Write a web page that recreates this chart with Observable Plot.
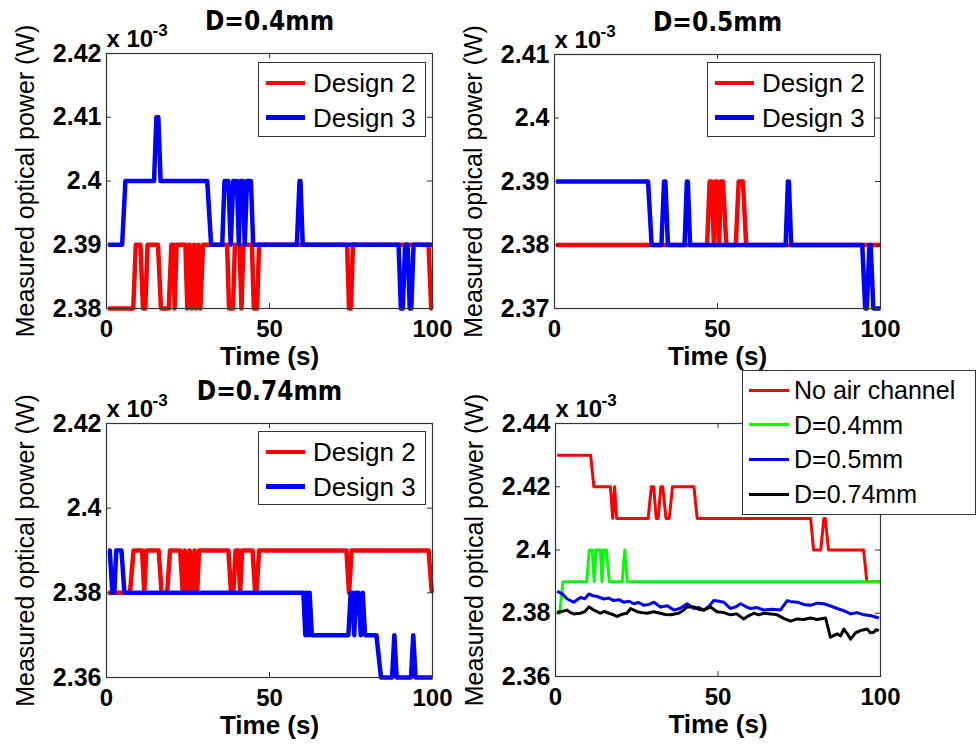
<!DOCTYPE html>
<html><head><meta charset="utf-8">
<script src="https://cdn.jsdelivr.net/npm/d3@7"></script>
<script src="https://cdn.jsdelivr.net/npm/@observablehq/plot@0.6"></script>
<style>
body{margin:0;background:#fff;}
#root{position:relative;width:976px;height:746px;overflow:hidden;background:#fff;font-family:"Liberation Sans",Arial,sans-serif;}
#root svg{position:absolute;left:0;top:0;}
.legend{position:absolute;background:#fff;border:1px solid #333;box-sizing:border-box;color:#000;}
.legend .sw{position:absolute;}
.legend .lbl{position:absolute;white-space:nowrap;line-height:30px;top:0;}
</style></head><body><div id="root"></div>
<script>
// ---- data (power in units of 1e-3 W, time in s) ----
const xTicks = [0, 50, 100];
const xTickLabels = ["0", "50", "100"];

const p1Ticks = [2.38, 2.39, 2.40, 2.41, 2.42];
const p1Labels = ["2.38", "2.39", "2.4", "2.41", "2.42"];
const p2Ticks = [2.37, 2.38, 2.39, 2.40, 2.41];
const p2Labels = ["2.37", "2.38", "2.39", "2.4", "2.41"];
const p3Ticks = [2.36, 2.38, 2.40, 2.42];
const p3Labels = ["2.36", "2.38", "2.4", "2.42"];
const p4Ticks = [2.36, 2.38, 2.40, 2.42, 2.44];
const p4Labels = ["2.36", "2.38", "2.4", "2.42", "2.44"];

const titles = ["D=0.4mm", "D=0.5mm", "D=0.74mm", ""];
const designNames = ["Design 2", "Design 3"];
const summaryNames = ["No air channel", "D=0.4mm", "D=0.5mm", "D=0.74mm"];

// Panel 1: D=0.4mm
const p1Design2 = [[0.5,2.38],[8.2,2.38],[9.0,2.39],[10.4,2.39],[11.2,2.38],[11.9,2.38],[12.6,2.39],[15.8,2.39],[16.7,2.38],[19.1,2.38],[19.9,2.39],[20.4,2.39],[20.9,2.38],[21.5,2.39],[24.2,2.39],[24.8,2.38],[25.5,2.39],[26.2,2.38],[26.9,2.39],[27.5,2.38],[28.2,2.39],[28.8,2.38],[29.6,2.39],[37.0,2.39],[37.6,2.38],[38.8,2.38],[39.4,2.39],[40.8,2.39],[41.4,2.38],[42.0,2.39],[44.6,2.39],[45.2,2.38],[46.2,2.38],[46.8,2.39],[73.8,2.39],[74.4,2.38],[75.0,2.38],[75.6,2.39],[98.8,2.39],[99.6,2.38],[100,2.38]];
const p1Design3 = [[0.5,2.39],[4.8,2.39],[5.8,2.40],[14.6,2.40],[15.3,2.41],[15.9,2.41],[16.6,2.40],[30.9,2.40],[32.1,2.39],[35.5,2.39],[36.2,2.40],[37.4,2.40],[38.1,2.39],[38.9,2.40],[40.0,2.40],[40.6,2.39],[41.1,2.40],[41.9,2.40],[42.4,2.39],[43.1,2.40],[44.3,2.40],[45.0,2.39],[58.4,2.39],[59.2,2.40],[59.5,2.40],[60.2,2.39],[89.6,2.39],[90.3,2.38],[90.9,2.38],[91.6,2.39],[92.4,2.39],[93.0,2.38],[93.5,2.38],[94.2,2.39],[100,2.39]];

// Panel 2: D=0.5mm
const p2Design2 = [[0.5,2.38],[46.8,2.38],[47.6,2.39],[48.2,2.39],[48.9,2.38],[49.4,2.39],[49.9,2.39],[50.5,2.38],[51.0,2.39],[51.7,2.39],[52.7,2.38],[55.6,2.38],[56.5,2.39],[57.8,2.39],[58.8,2.38],[100,2.38]];
const p2Design3 = [[0.5,2.39],[28.7,2.39],[29.8,2.38],[32.8,2.38],[33.6,2.39],[34.0,2.39],[34.8,2.38],[39.9,2.38],[40.6,2.39],[40.9,2.39],[41.6,2.38],[70.9,2.38],[71.6,2.39],[71.9,2.39],[72.6,2.38],[94.4,2.38],[95.3,2.37],[95.8,2.37],[96.6,2.38],[97.0,2.38],[97.8,2.37],[100,2.37]];

// Panel 3: D=0.74mm
const p3Design2 = [[0.5,2.38],[7.2,2.38],[8.3,2.39],[10.9,2.39],[11.6,2.38],[12.2,2.39],[16.0,2.39],[16.9,2.38],[18.6,2.38],[19.5,2.39],[22.6,2.39],[23.4,2.38],[24.0,2.39],[24.8,2.38],[25.5,2.39],[26.3,2.38],[27.0,2.39],[27.8,2.38],[28.4,2.39],[37.4,2.39],[38.2,2.38],[38.9,2.38],[39.6,2.39],[40.4,2.39],[41.0,2.38],[41.6,2.39],[44.8,2.39],[45.6,2.38],[46.0,2.38],[46.8,2.39],[73.6,2.39],[74.4,2.38],[75.2,2.39],[98.8,2.39],[99.8,2.38]];
const p3Design3 = [[0.5,2.39],[1.0,2.39],[1.8,2.38],[2.4,2.38],[3.0,2.39],[4.6,2.39],[5.5,2.38],[60.4,2.38],[61.0,2.37],[61.4,2.38],[61.9,2.37],[62.3,2.38],[63.0,2.37],[74.2,2.37],[74.9,2.38],[75.4,2.38],[76.0,2.37],[76.5,2.38],[77.3,2.38],[78.0,2.37],[78.6,2.38],[79.3,2.37],[82.8,2.37],[84.2,2.36],[87.6,2.36],[88.3,2.37],[89.0,2.36],[93.4,2.36],[94.1,2.37],[94.8,2.36],[100,2.36]];

// Panel 4: comparison
const p4NoAir = [[0.5,2.43],[10.8,2.43],[11.8,2.42],[16.9,2.42],[17.6,2.41],[18.2,2.42],[18.8,2.41],[28.5,2.41],[29.5,2.42],[30.2,2.42],[31.0,2.41],[31.6,2.41],[32.4,2.42],[33.0,2.42],[34.0,2.41],[35.0,2.41],[36.0,2.42],[42.6,2.42],[43.6,2.41],[78.5,2.41],[79.4,2.40],[81.6,2.40],[82.6,2.41],[83.0,2.41],[84.0,2.40],[94.8,2.40],[95.8,2.39],[100,2.39]];
const p4D04 = [[0.5,2.38],[1.3,2.38],[2.3,2.39],[9.6,2.39],[10.4,2.40],[11.3,2.40],[11.9,2.39],[12.4,2.40],[13.8,2.40],[14.3,2.39],[14.8,2.40],[15.6,2.40],[16.6,2.39],[20.5,2.39],[21.3,2.40],[22.1,2.39],[100,2.39]];
const p4D05 = [[0.5,2.3869],[2.0,2.3862],[3.6,2.3845],[5.6,2.3835],[6.6,2.3842],[7.7,2.385],[9.0,2.3846],[10.3,2.3861],[11.5,2.3855],[12.8,2.3853],[14.9,2.3845],[16.4,2.3848],[17.9,2.384],[19.5,2.3843],[21.0,2.3835],[22.6,2.3838],[24.1,2.383],[25.6,2.3834],[27.2,2.3825],[28.8,2.3828],[30.3,2.3835],[32.3,2.382],[34.4,2.3824],[36.4,2.381],[38.4,2.3816],[40.5,2.383],[42.6,2.3815],[44.1,2.3818],[45.6,2.381],[47.2,2.3822],[48.7,2.384],[50.3,2.3838],[51.8,2.3835],[53.8,2.3815],[55.4,2.382],[56.9,2.383],[58.4,2.3822],[60.0,2.3815],[62.0,2.3818],[64.1,2.381],[66.7,2.3813],[69.2,2.381],[71.3,2.384],[72.8,2.3836],[74.4,2.3835],[76.4,2.3828],[78.5,2.3825],[80.5,2.3832],[82.6,2.383],[84.6,2.3823],[86.7,2.3815],[88.7,2.3808],[90.8,2.3798],[92.8,2.3802],[94.9,2.3795],[97.2,2.3792],[99.5,2.3785]];
const p4D074 = [[0.5,2.3803],[2.0,2.3806],[3.6,2.381],[4.6,2.3802],[5.6,2.3798],[7.7,2.380],[9.0,2.3805],[10.3,2.382],[11.8,2.381],[13.8,2.380],[15.0,2.3806],[16.4,2.380],[17.7,2.3796],[19.0,2.379],[20.5,2.3797],[22.0,2.380],[23.1,2.3815],[25.1,2.3805],[26.6,2.3802],[28.2,2.380],[30.2,2.3805],[32.3,2.380],[33.8,2.3796],[35.4,2.3795],[37.9,2.380],[39.2,2.3808],[40.5,2.382],[42.6,2.382],[44.1,2.3812],[45.6,2.381],[47.7,2.382],[49.7,2.3805],[51.8,2.3802],[53.8,2.3795],[55.8,2.3798],[57.9,2.3782],[59.4,2.3792],[61.0,2.380],[62.6,2.3795],[64.1,2.380],[66.2,2.3798],[68.2,2.3795],[70.2,2.3784],[72.3,2.3775],[74.4,2.3782],[76.4,2.378],[78.4,2.3785],[80.5,2.378],[83.1,2.3785],[84.6,2.3724],[85.7,2.373],[86.7,2.3735],[87.7,2.3728],[88.7,2.375],[89.8,2.3735],[90.8,2.3718],[92.3,2.3738],[93.8,2.3745],[95.9,2.375],[96.9,2.3738],[97.9,2.374],[98.7,2.3748],[99.5,2.3745]];

const RED = "#ff0000", BLUE = "#0000ff", GREEN = "#00ff00", BLACK = "#000000";

const panels = [
  {frame:[106,432,53,308], yDomain:[2.38,2.42], yTicks:p1Ticks, yLabels:p1Labels, title:titles[0],
   series:[[p1Design2,RED],[p1Design3,BLUE]], lw:4.5},
  {frame:[554,880,54,308], yDomain:[2.37,2.41], yTicks:p2Ticks, yLabels:p2Labels, title:titles[1],
   series:[[p2Design2,RED],[p2Design3,BLUE]], lw:4.5},
  {frame:[106,432,423,677], yDomain:[2.36,2.42], yTicks:p3Ticks, yLabels:p3Labels, title:titles[2],
   series:[[p3Design2,RED],[p3Design3,BLUE]], lw:4.5},
  {frame:[555,880,423,676], yDomain:[2.36,2.44], yTicks:p4Ticks, yLabels:p4Labels, title:titles[3],
   series:[[p4NoAir,RED],[p4D04,GREEN],[p4D05,BLUE],[p4D074,BLACK]], lw:3}
];

const root = document.getElementById("root");
const W = 976, H = 746;
const AX = "#333333";

panels.forEach(p => {
  const [L, R, T, B] = p.frame;
  const pw = R - L, ph = B - T;
  const marks = [];
  p.series.forEach(([data, color]) => {
    marks.push(Plot.line(data, {x: d => d[0], y: d => d[1], stroke: color, strokeWidth: p.lw, strokeLinejoin: "round", strokeLinecap: "butt"}));
  });
  marks.push(Plot.frame({stroke: AX, strokeWidth: 1.2}));
  // inward ticks on all four sides
  marks.push(Plot.ruleY(p.yTicks, {y: d => d, insetRight: pw - 5, stroke: AX}));
  marks.push(Plot.ruleY(p.yTicks, {y: d => d, insetLeft: pw - 5, stroke: AX}));
  marks.push(Plot.ruleX(xTicks, {x: d => d, insetTop: ph - 5, stroke: AX}));
  marks.push(Plot.ruleX(xTicks, {x: d => d, insetBottom: ph - 5, stroke: AX}));
  // tick labels
  marks.push(Plot.axisY(p.yTicks, {anchor: "left", tickSize: 0, tickPadding: 5, label: null,
    tickFormat: d => p.yLabels[p.yTicks.indexOf(d)], fontSize: 25, fontWeight: "bold", fill: "#000"}));
  marks.push(Plot.axisX(xTicks, {anchor: "bottom", tickSize: 0, tickPadding: 11, label: null,
    tickFormat: d => xTickLabels[xTicks.indexOf(d)], fontSize: 24, fontWeight: "bold", fill: "#000"}));
  // axis titles
  marks.push(Plot.text(["Time (s)"], {text: d => d, frameAnchor: "bottom", lineAnchor: "bottom", dy: 56, fontSize: 26, fontWeight: "bold", fill: "#000"}));
  marks.push(Plot.text(["Measured optical power (W)"], {text: d => d, frameAnchor: "left", rotate: -90, textAnchor: "middle", lineAnchor: "middle", dx: -81, fontSize: 25, fill: "#000"}));
  // exponent
  marks.push(Plot.text(["x 10"], {text: d => d, frameAnchor: "top-left", textAnchor: "start", lineAnchor: "bottom", dy: -7, fontSize: 24, fontWeight: "bold", fill: "#000"}));
  marks.push(Plot.text(["-3"], {text: d => d, frameAnchor: "top-left", textAnchor: "start", lineAnchor: "bottom", dx: 46, dy: -18, fontSize: 17, fontWeight: "bold", fill: "#000"}));
  if (p.title) {
    marks.push(Plot.text([p.title], {text: d => d, frameAnchor: "top", lineAnchor: "bottom", dy: -24, fontSize: 26, fontFamily: "'Liberation Sans Narrow','DejaVu Sans Condensed',sans-serif", fontWeight: "bold", fill: "#000"}));
  }
  const svg = Plot.plot({
    width: W, height: H,
    marginLeft: L, marginRight: W - R, marginTop: T, marginBottom: H - B,
    x: {domain: [0, 100]},
    y: {domain: p.yDomain},
    style: {background: "transparent", fontFamily: "'Liberation Sans', Arial, sans-serif", overflow: "visible"},
    marks
  });
  root.appendChild(svg);
});

function legend(box, names, colors, o) {
  const div = document.createElement("div");
  div.className = "legend";
  Object.assign(div.style, {left: box[0] + "px", top: box[1] + "px", width: box[2] + "px", height: box[3] + "px"});
  names.forEach((name, i) => {
    const cy = o.first + i * o.step;
    const sw = document.createElement("div");
    sw.className = "sw";
    Object.assign(sw.style, {left: o.lineX + "px", top: (cy - o.lw / 2) + "px", width: o.lineLen + "px", height: o.lw + "px", background: colors[i]});
    div.appendChild(sw);
    const t = document.createElement("div");
    t.className = "lbl";
    t.textContent = name;
    Object.assign(t.style, {left: o.textX + "px", top: (cy - 15) + "px", fontSize: o.fs + "px"});
    div.appendChild(t);
  });
  root.appendChild(div);
}
const dOpts = {first: 20, step: 34.5, lineX: 7, lineLen: 39, lw: 4.5, textX: 54, fs: 26};
legend([258, 62, 168, 75], designNames, [RED, BLUE], dOpts);
legend([707, 62, 168, 75], designNames, [RED, BLUE], dOpts);
legend([258, 431, 168, 74], designNames, [RED, BLUE], dOpts);
legend([742, 370, 234, 145], summaryNames, [RED, GREEN, BLUE, BLACK], {first: 19, step: 34.7, lineX: 6, lineLen: 40, lw: 3, textX: 51, fs: 25});
</script></body></html>
